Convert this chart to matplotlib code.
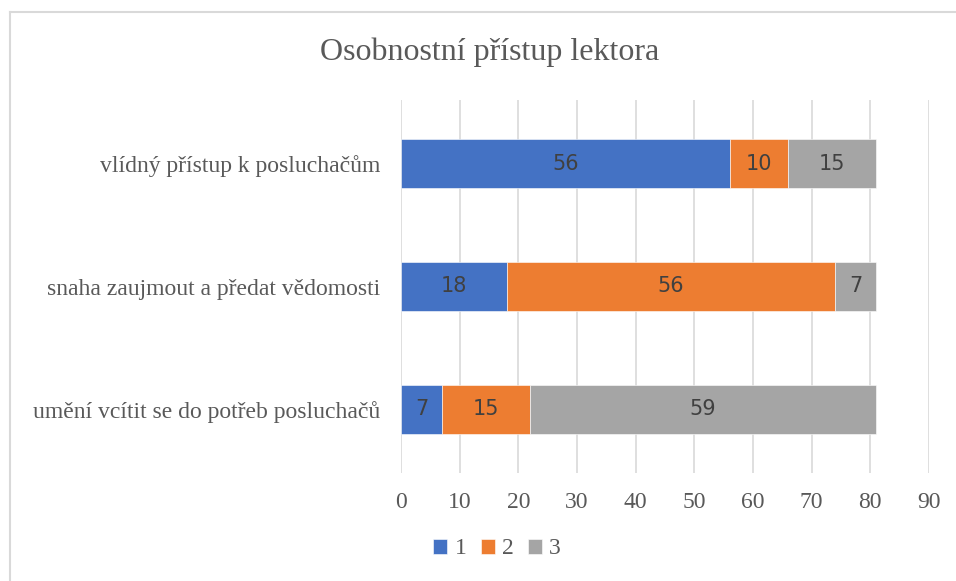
import numpy as np
import matplotlib
matplotlib.use('Agg')
from matplotlib import pyplot as plt
from matplotlib.lines import Line2D

# data
categories = ['vlídný přístup k posluchačům',
              'snaha zaujmout a předat vědomosti',
              'umění vcítit se do potřeb posluchačů']
series_names = ['1', '2', '3']
values_1 = [56, 18, 7]
values_2 = [10, 56, 15]
values_3 = [15, 7, 59]
x_ticks = [0, 10, 20, 30, 40, 50, 60, 70, 80, 90]

colors = ['#4472C4', '#ED7D31', '#A5A5A5']
text_grey = '#595959'
serif = 'Liberation Serif'

fig = plt.figure(figsize=(9.56, 5.81), dpi=100)
ax = fig.add_axes([401 / 956, 1 - 473 / 581, 528 / 956, 373 / 581])

y = np.arange(len(categories))[::-1]  # first category on top
left = np.zeros(len(categories))
for name, vals, col in zip(series_names, [values_1, values_2, values_3], colors):
    bars = ax.barh(y, vals, left=left, height=0.4, color=col, label=name,
                   edgecolor='white', linewidth=0.4, zorder=3)
    ax.bar_label(bars, labels=[str(v) for v in vals], label_type='center',
                 fontsize=15, color='#404040', family='DejaVu Sans')
    left = left + np.array(vals)

ax.set_xlim(0, 90)
ax.set_ylim(-0.52, 2.52)
ax.set_xticks(x_ticks)
ax.set_xticklabels([str(t) for t in x_ticks], family=serif, fontsize=17, color=text_grey)
ax.set_yticks(y)
ax.set_yticklabels(categories, family=serif, fontsize=17, color=text_grey)
ax.tick_params(axis='both', length=0)
ax.tick_params(axis='x', pad=14)
ax.tick_params(axis='y', pad=15)
ax.grid(axis='x', color='#d9d9d9', linewidth=1.2, zorder=0)
for s in ax.spines.values():
    s.set_visible(False)

fig.text(490 / 956, 1 - 52 / 581, 'Osobnostní přístup lektora', ha='center', va='center',
         family=serif, fontsize=23, color=text_grey)

leg = fig.legend(loc='center', bbox_to_anchor=(497 / 956, 1 - 549 / 581), ncol=3, frameon=False,
                 prop={'family': serif, 'size': 17}, handlelength=0.6, handleheight=0.6,
                 handletextpad=0.3, columnspacing=0.6, labelcolor=text_grey)

# chart frame (only top and left edges visible in the crop)
fig.add_artist(Line2D([10 / 956, 1], [1 - 12 / 581, 1 - 12 / 581], color='#d9d9d9', linewidth=1.5))
fig.add_artist(Line2D([10 / 956, 10 / 956], [0, 1 - 12 / 581], color='#d9d9d9', linewidth=1.5))

fig.savefig('out.png', dpi=100)
